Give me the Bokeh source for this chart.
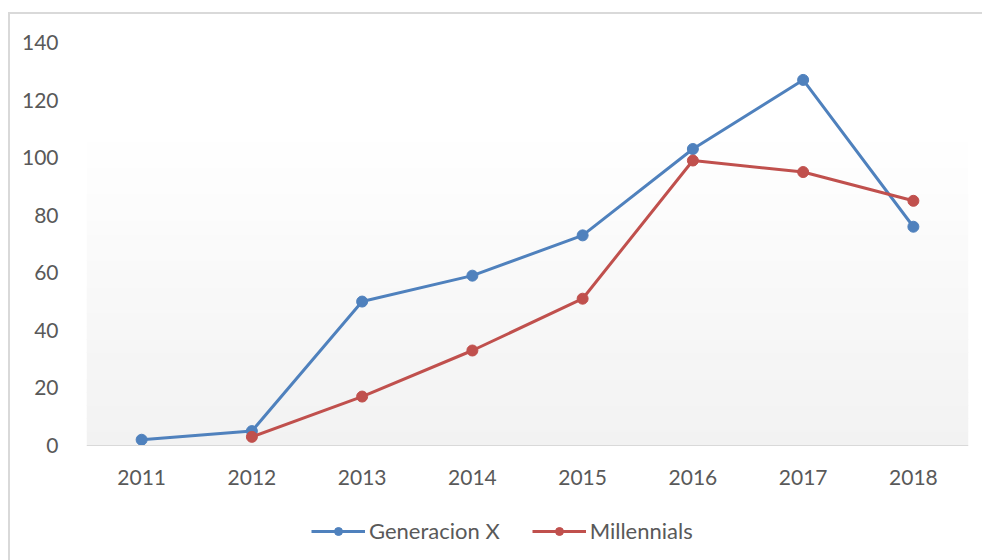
from bokeh.plotting import figure
from bokeh.models import Range1d, Legend, LegendItem, BoxAnnotation, Span, ColumnDataSource
from bokeh.core.properties import value
from bokeh.embed import file_html
from bokeh.resources import INLINE

years = ["2011", "2012", "2013", "2014", "2015", "2016", "2017", "2018"]
gen_x_years = ["2011", "2012", "2013", "2014", "2015", "2016", "2017", "2018"]
gen_x = [2, 5, 50, 59, 73, 103, 127, 76]
mill_years = ["2012", "2013", "2014", "2015", "2016", "2017", "2018"]
millennials = [3, 17, 33, 51, 99, 95, 85]
y_ticks = [0, 20, 40, 60, 80, 100, 120, 140]

BLUE = "#4F81BD"
RED = "#C0504D"
TXT = "#595959"
FONT = "Lato"

# frame spans from the top of the value area down to the bottom of the chart;
# the region below 0 hosts the category labels and the legend
Y_MAX = 140
Y_MIN = -115 * Y_MAX / 403.0

p = figure(width=982, height=560, x_range=years, y_range=Range1d(Y_MIN, Y_MAX),
           output_backend="svg", toolbar_location=None,
           min_border_left=86, min_border_right=14, min_border_top=42, min_border_bottom=0)
# outer chart border (top and left edges visible), drawn as host background
p.styles = {"background": "linear-gradient(#d9d9d9,#d9d9d9) 8px 12px / 2px 600px no-repeat, "
                          "linear-gradient(#d9d9d9,#d9d9d9) 8px 12px / 1100px 2px no-repeat, white"}
p.outline_line_color = None
p.background_fill_color = "white"
p.border_fill_alpha = 0
p.xgrid.grid_line_color = None
p.ygrid.grid_line_color = None

# soft vertical gradient in the value area (styling only)
n = 24
for i in range(n):
    t = i / (n - 1)
    c = int(round(0xF2 + (0xFF - 0xF2) * t))
    col = "#%02x%02x%02x" % (c, c, c)
    p.add_layout(BoxAnnotation(bottom=110 * i / n, top=110 * (i + 1) / n + 0.3,
                               fill_color=col, fill_alpha=1.0, line_color=None, level="image"))

# category baseline at zero
p.add_layout(Span(location=0, dimension="width", line_color="#d9d9d9", line_width=1))

l1 = p.line(gen_x_years, gen_x, line_color=BLUE, line_width=3)
s1 = p.scatter(gen_x_years, gen_x, size=11, fill_color=BLUE, line_color=BLUE)
l2 = p.line(mill_years, millennials, line_color=RED, line_width=3)
s2 = p.scatter(mill_years, millennials, size=11, fill_color=RED, line_color=RED)

# category labels beneath the baseline
lab_src = ColumnDataSource(dict(x=years, y=[-11] * len(years), t=years))
p.text(x="x", y="y", text="t", source=lab_src, text_align="center", text_baseline="middle",
       text_font=value(FONT), text_font_size="21px", text_color=TXT)

p.xaxis.visible = False
p.yaxis.ticker = y_ticks
p.yaxis.axis_line_color = None
p.yaxis.major_tick_line_color = None
p.yaxis.minor_tick_line_color = None
p.yaxis.major_label_standoff = 22
p.yaxis.major_label_text_font = FONT
p.yaxis.major_label_text_font_size = "21px"
p.yaxis.major_label_text_color = TXT

legend = Legend(items=[LegendItem(label="Generacion X", renderers=[l1, s1]),
                       LegendItem(label="Millennials", renderers=[l2, s2])],
                orientation="horizontal", location=(225, 16),
                glyph_width=54, glyph_height=20, label_standoff=4, spacing=32,
                padding=4, margin=0,
                label_text_font=FONT, label_text_font_size="22px", label_text_color=TXT,
                background_fill_alpha=0, border_line_color=None)
p.add_layout(legend, "center")

open("out.html", "w").write(file_html(p, INLINE))
